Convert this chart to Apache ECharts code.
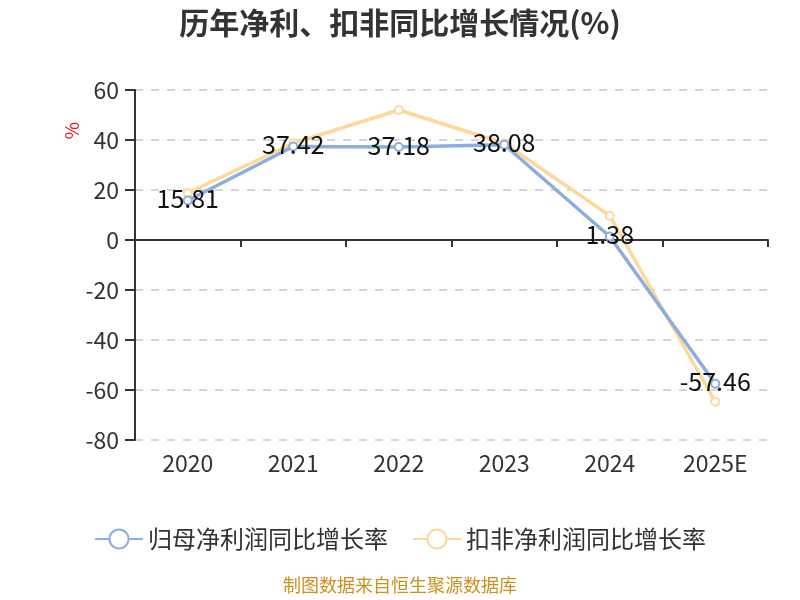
<!DOCTYPE html>
<html><head><meta charset="utf-8">
<script src="https://cdn.jsdelivr.net/npm/echarts@6/dist/echarts.min.js"></script>
<style>html,body{margin:0;padding:0;background:#fff}#c{width:800px;height:600px}</style>
</head><body><div id="c"></div>
<script>
const categories = ['2020','2021','2022','2023','2024','2025E'];
const netProfitGrowth = [15.81, 37.42, 37.18, 38.08, 1.38, -57.46];
const deductedGrowth = [18.8, 38.7, 52.0, 38.7, 9.7, -64.7];
const seriesNames = ['归母净利润同比增长率', '扣非净利润同比增长率'];
const yTicks = {min: -80, max: 60, interval: 20};

const FONT = '"Noto Sans CJK SC", "Noto Sans", sans-serif';
const chart = echarts.init(document.getElementById('c'));
chart.setOption({
  animation: false,
  textStyle: {fontFamily: FONT},
  title: {text: '历年净利、扣非同比增长情况(%)', left: 'center', top: 3,
    textStyle: {fontSize: 30, fontWeight: 'bold', color: '#333', fontFamily: FONT}},
  grid: {left: 135, right: 32, top: 90, bottom: 160},
  legend: {bottom: 44, left: 'center', itemWidth: 48, itemHeight: 24, itemGap: 24,
    textStyle: {fontSize: 24, color: '#333', fontFamily: FONT},
    data: seriesNames},
  xAxis: [
    {type: 'category', data: categories, boundaryGap: true,
     axisLine: {onZero: true, lineStyle: {color: '#333', width: 2}},
     axisTick: {show: true, length: 7, lineStyle: {color: '#333', width: 2}},
     axisLabel: {show: false}, splitLine: {show: false}},
    {type: 'category', data: categories, position: 'bottom', boundaryGap: true,
     axisLine: {show: false, onZero: false}, axisTick: {show: false},
     axisLabel: {fontSize: 23, color: '#333', margin: 12, fontFamily: FONT}}
  ],
  yAxis: {type: 'value', min: yTicks.min, max: yTicks.max, interval: yTicks.interval,
    axisLine: {show: true, lineStyle: {color: '#333', width: 2}},
    axisTick: {show: true, length: 10, lineStyle: {color: '#333', width: 2}},
    axisLabel: {fontSize: 23, color: '#333', margin: 16, fontFamily: FONT},
    splitLine: {lineStyle: {type: [8, 8], color: '#c8c8c8', width: 1.5}}},
  graphic: [
    {type: 'text', left: 62, top: 122, rotation: Math.PI / 2,
     style: {text: '%', fill: '#e02020', fontSize: 19, fontFamily: FONT}},
    {type: 'text', left: 'center', top: 576,
     style: {text: '制图数据来自恒生聚源数据库', fill: '#c8921f', fontSize: 18, fontFamily: FONT}}
  ],
  series: [
    {name: seriesNames[0], type: 'line', data: netProfitGrowth, z: 3,
     symbol: 'emptyCircle', symbolSize: 8,
     lineStyle: {color: '#8aaedd', width: 3.5}, itemStyle: {color: '#8aaedd', borderWidth: 1.5},
     label: {show: true, position: 'inside', offset: [0, -2], fontSize: 25, color: '#111', fontFamily: FONT}},
    {name: seriesNames[1], type: 'line', data: deductedGrowth, z: 2,
     symbol: 'emptyCircle', symbolSize: 8,
     lineStyle: {color: '#fdd898', width: 3.5}, itemStyle: {color: '#fdd898', borderWidth: 1.5},
     label: {show: false}}
  ]
});
</script></body></html>
